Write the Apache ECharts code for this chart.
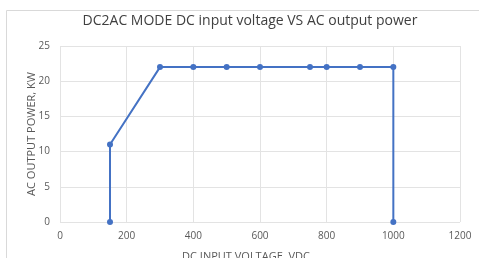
<!DOCTYPE html>
<html>
<head>
<meta charset="utf-8">
<script src="https://cdn.jsdelivr.net/npm/echarts@6/dist/echarts.min.js"></script>
<style>
  html, body { margin: 0; padding: 0; background: #fff; }
  #chart { width: 479px; height: 258px; }
</style>
</head>
<body>
<div id="chart"></div>
<script>
// DC input voltage (V) vs AC output power (kW)
var voltage = [150, 150, 300, 400, 500, 600, 750, 800, 900, 1000, 1000];
var power = [0, 11, 22, 22, 22, 22, 22, 22, 22, 22, 0];
var xTicks = [0, 200, 400, 600, 800, 1000, 1200];
var yTicks = [0, 5, 10, 15, 20, 25];

var chart = echarts.init(document.getElementById('chart'));
var pts = voltage.map(function (v, i) { return [v, power[i]]; });
var font = 'Open Sans, Liberation Sans, sans-serif';

chart.setOption({
    animation: false,
    title: {
        text: 'DC2AC MODE DC input voltage VS AC output power',
        left: 245, top: 9, textAlign: 'center',
        textStyle: { fontFamily: font, fontSize: 14, fontWeight: 'normal', color: '#404040' }
    },
    graphic: [{
        type: 'rect', shape: { x: 6.5, y: 10.5, width: 480, height: 260 },
        style: { fill: null, stroke: '#d9d9d9', lineWidth: 1 }, silent: true
    }],
    grid: { left: 60, right: 19, top: 46, bottom: 36, containLabel: false, outerBoundsMode: 'none' },
    xAxis: {
        type: 'value', min: xTicks[0], max: xTicks[xTicks.length - 1], interval: 200,
        name: 'DC INPUT VOLTAGE, VDC', nameLocation: 'middle', nameGap: 29, nameMoveOverlap: false,
        nameTextStyle: { fontFamily: font, fontSize: 11, color: '#595959', padding: [0, 28, 0, 0] },
        axisLine: { show: false }, axisTick: { show: false },
        axisLabel: { fontFamily: font, fontSize: 10, color: '#595959', margin: 9,
            formatter: function (v) { return String(v); } },
        splitLine: { lineStyle: { color: '#e3e3e3' } }
    },
    yAxis: {
        type: 'value', min: yTicks[0], max: yTicks[yTicks.length - 1], interval: 5,
        name: 'AC OUTPUT POWER, KW', nameLocation: 'middle', nameGap: 23, nameMoveOverlap: false,
        nameTextStyle: { fontFamily: font, fontSize: 11, color: '#595959' },
        axisLine: { show: false }, axisTick: { show: false },
        axisLabel: { fontFamily: font, fontSize: 10, color: '#595959', margin: 10 },
        splitLine: { lineStyle: { color: '#e3e3e3' } }
    },
    series: [{
        type: 'line', data: pts,
        symbol: 'circle', symbolSize: 6,
        lineStyle: { color: '#4472c4', width: 2 },
        itemStyle: { color: '#4472c4' }
    }]
});
</script>
</body>
</html>
